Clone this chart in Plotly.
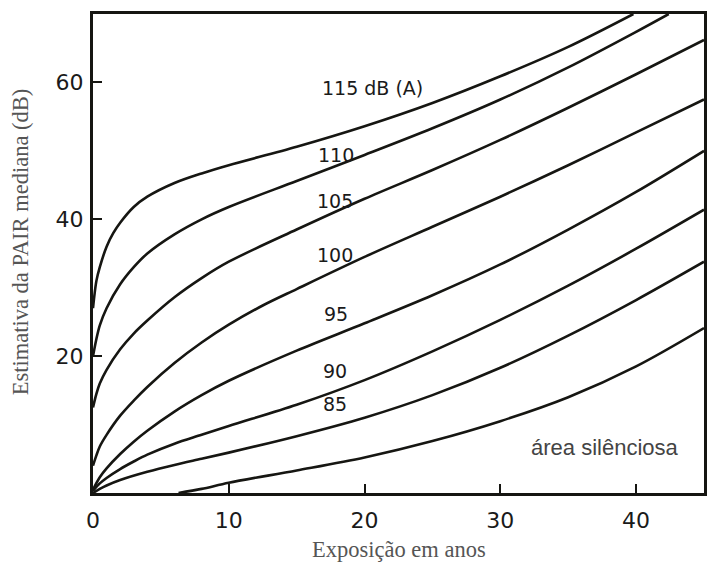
import plotly.graph_objects as go

# Median noise-induced hearing loss (dB) versus years of exposure,
# one curve per exposure level in dB(A).
exp_115 = [0, 0.25, 0.5, 1, 1.5, 2, 3, 4, 6, 8, 10, 15, 20, 25, 30, 35, 39.8]
pair_115 = [27, 31, 33, 36, 38, 39.5, 41.8, 43.3, 45.3, 46.7, 47.9, 50.6, 53.6, 57, 60.9, 65.2, 70]

exp_110 = [0, 0.25, 0.5, 1, 2, 3, 4, 6, 8, 10, 15, 20, 25, 30, 35, 40, 42.4]
pair_110 = [20, 22.5, 24.5, 27, 30.5, 33, 35, 37.8, 40, 41.8, 45.6, 49.4, 53.3, 57.5, 62.2, 67.4, 70]

exp_105 = [0, 0.25, 0.5, 1, 2, 3, 4, 6, 8, 10, 15, 20, 25, 30, 35, 40, 45]
pair_105 = [12.5, 14.5, 16, 18, 21, 23.3, 25.2, 28.6, 31.4, 33.8, 38.5, 43, 47.2, 51.6, 56.3, 61.2, 66.2]

exp_100 = [0, 0.25, 0.5, 1, 2, 3, 4, 6, 8, 10, 12.5, 15, 20, 25, 30, 35, 40, 45]
pair_100 = [4, 5.5, 6.8, 8.5, 11.3, 13.5, 15.5, 19, 22, 24.6, 27.4, 29.8, 34.5, 38.9, 43.3, 47.9, 52.7, 57.5]

exp_95 = [0, 0.5, 1, 2, 3, 4, 6, 8, 10, 15, 20, 25, 30, 35, 40, 45]
pair_95 = [0.5, 2.3, 3.6, 5.7, 7.5, 9.1, 11.9, 14.3, 16.4, 20.8, 24.8, 28.9, 33.4, 38.5, 44, 50]

exp_90 = [0, 0.5, 1, 2, 3, 4, 6, 8, 10, 15, 20, 25, 30, 35, 40, 45]
pair_90 = [0.3, 1.4, 2.2, 3.5, 4.6, 5.6, 7.2, 8.5, 9.8, 12.9, 16.5, 20.7, 25.3, 30.3, 35.7, 41.4]

exp_85 = [0, 0.5, 1, 2, 4, 6, 8, 10, 15, 20, 25, 30, 35, 40, 45]
pair_85 = [0, 0.6, 1.1, 1.9, 3.1, 4.1, 5, 5.9, 8.3, 11, 14.3, 18.3, 23, 28.2, 33.8]

exp_80 = [6.3, 8, 10, 15, 20, 25, 30, 35, 40, 45]
pair_80 = [0, 0.6, 1.5, 3.3, 5.2, 7.6, 10.5, 14, 18.5, 24.1]

curves = [
    ("115", exp_115, pair_115),
    ("110", exp_110, pair_110),
    ("105", exp_105, pair_105),
    ("100", exp_100, pair_100),
    ("95", exp_95, pair_95),
    ("90", exp_90, pair_90),
    ("85", exp_85, pair_85),
    ("80", exp_80, pair_80),
]

x_ticks = [0, 10, 20, 30, 40]
y_ticks = [20, 40, 60]

# Curve labels: text and the (years, dB) point where each is written
curve_labels = [
    ("115 dB (A)", 20.6, 59.2),
    ("110", 17.9, 49.4),
    ("105", 17.85, 42.7),
    ("100", 17.8, 34.8),
    ("95", 17.9, 26.2),
    ("90", 17.85, 17.8),
    ("85", 17.85, 13.0),
]

INK = "#161612"

fig = go.Figure()
for name, xs, ys in curves:
    fig.add_trace(go.Scatter(
        x=xs, y=ys, mode="lines", name=name,
        line=dict(color=INK, width=2.6, shape="spline", smoothing=0.9),
        showlegend=False, hoverinfo="skip",
    ))

annotations = []
for text, ax, ay in curve_labels:
    annotations.append(dict(
        x=ax, y=ay, xref="x", yref="y", text=text, showarrow=False,
        font=dict(family="DejaVu Sans", size=19, color="#1a1a1a"),
        xanchor="center", yanchor="middle",
    ))

annotations.append(dict(
    x=37.7, y=6.7, xref="x", yref="y", text="área silênciosa", showarrow=False,
    font=dict(family="Liberation Sans", size=22, color="#444444"),
    xanchor="center", yanchor="middle",
))

# Axis titles
annotations.append(dict(
    x=-0.119, y=0.524, xref="paper", yref="paper",
    text="Estimativa da PAIR mediana (dB)", showarrow=False, textangle=-90,
    font=dict(family="Liberation Serif", size=22.5, color="#555555"),
    xanchor="center", yanchor="middle",
))
annotations.append(dict(
    x=0.5, y=-0.117, xref="paper", yref="paper",
    text="Exposição em anos", showarrow=False,
    font=dict(family="Liberation Serif", size=22.5, color="#555555"),
    xanchor="center", yanchor="middle",
))

fig.update_layout(
    width=708, height=565,
    margin=dict(l=93, r=1, t=14, b=72),
    paper_bgcolor="white", plot_bgcolor="white",
    annotations=annotations,
    xaxis=dict(
        range=[0, 45], tickvals=x_ticks, ticktext=[str(v) for v in x_ticks],
        showgrid=False, zeroline=False,
        showline=True, linecolor=INK, linewidth=3, mirror=True,
        ticks="inside", ticklen=9, tickwidth=2, tickcolor=INK,
        ticklabelstandoff=6,
        tickfont=dict(family="DejaVu Sans", size=22, color="#1a1a1a"),
    ),
    yaxis=dict(
        range=[0, 70], tickvals=y_ticks, ticktext=[str(v) for v in y_ticks],
        showgrid=False, zeroline=False,
        showline=True, linecolor=INK, linewidth=3, mirror=True,
        ticks="inside", ticklen=9, tickwidth=2, tickcolor=INK,
        ticklabelstandoff=2,
        tickfont=dict(family="DejaVu Sans", size=22, color="#1a1a1a"),
    ),
)

fig.write_html("out.html")
